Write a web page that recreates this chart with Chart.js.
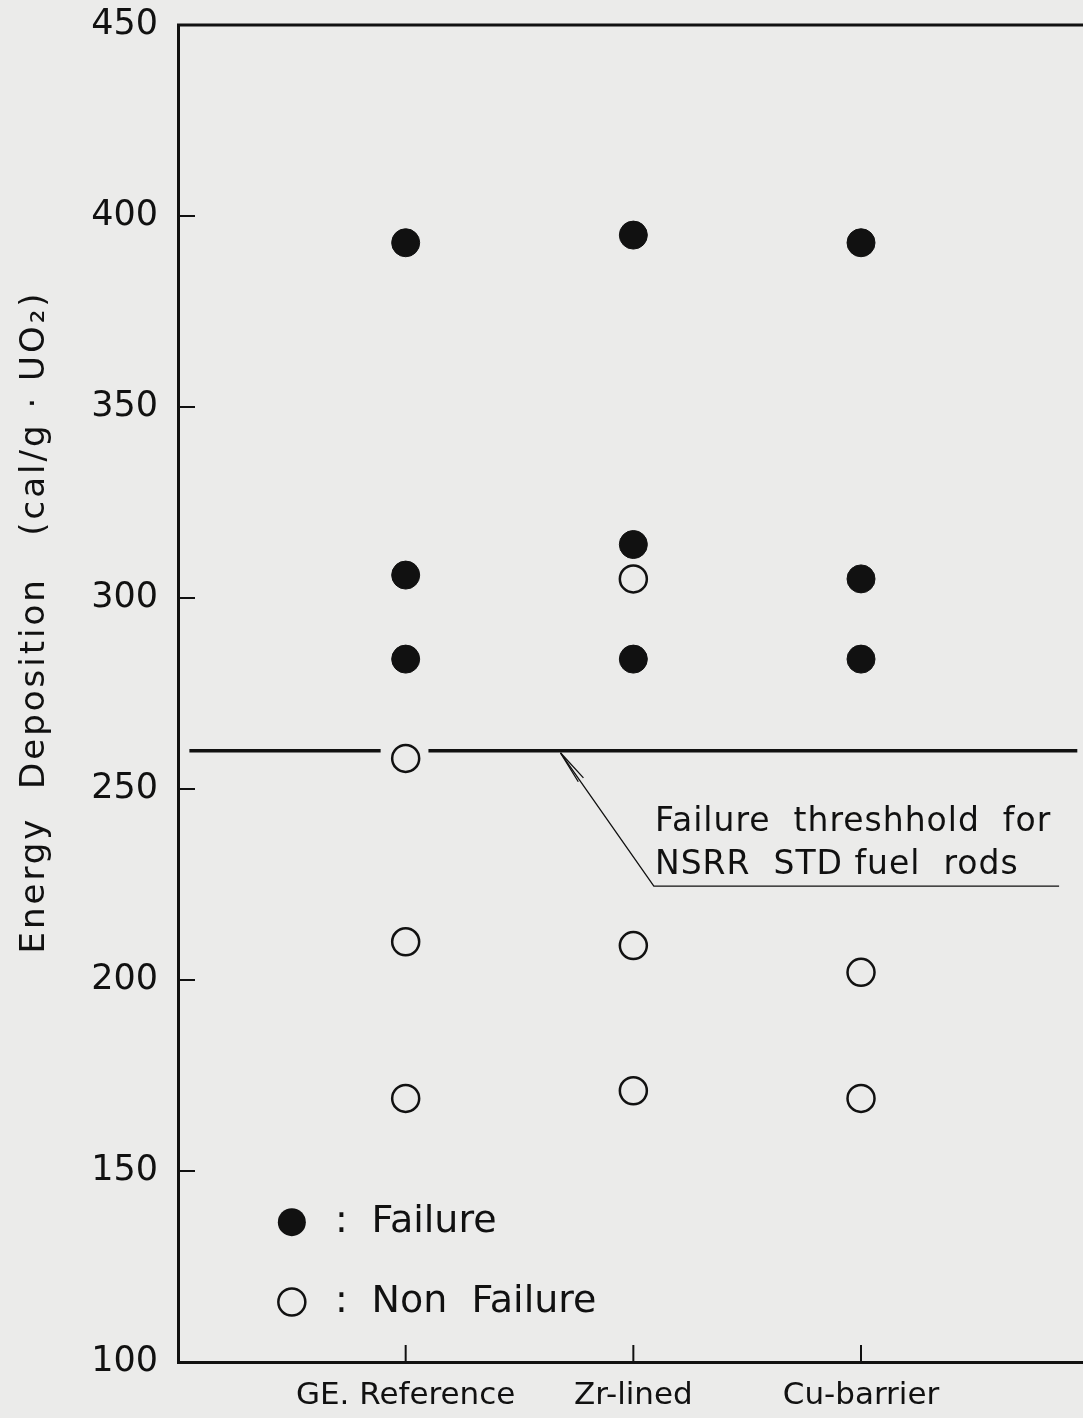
<!DOCTYPE html>
<html>
<head>
<meta charset="utf-8">
<script src="https://cdn.jsdelivr.net/npm/chart.js@4/dist/chart.umd.min.js"></script>
<style>
  html, body { margin: 0; padding: 0; background: #ebebea; }
  #c { display: block; }
</style>
</head>
<body>
<canvas id="c" width="1083" height="1418"></canvas>
<script>
// ---- Data ----
const categories = ['GE. Reference', 'Zr-lined', 'Cu-barrier'];
const yTicks = [100, 150, 200, 250, 300, 350, 400, 450];

// Energy deposition (cal/g·UO2) per category
const failureGE   = [393, 306, 284];
const failureZr   = [395, 314, 284];
const failureCu   = [393, 305, 284];
const nonFailureGE = [258, 210, 169];
const nonFailureZr = [305, 209, 171];
const nonFailureCu = [202, 169];

const thresholdValue = 260; // failure threshold for NSRR STD fuel rods

// ---- Build point lists ----
function pts(vals, catIndex) { return vals.map(v => ({ x: catIndex + 1, y: v })); }
const failurePoints = [].concat(pts(failureGE, 0), pts(failureZr, 1), pts(failureCu, 2));
const nonFailurePoints = [].concat(pts(nonFailureGE, 0), pts(nonFailureZr, 1), pts(nonFailureCu, 2));

const INK = '#111111';
const BG = '#ebebea';
const FONT = "'DejaVu Sans', sans-serif";

// threshold segments (gap around the open circle at GE. Reference)
const thresholdSeg1 = [{ x: 0.05, y: thresholdValue }, { x: 0.89, y: thresholdValue }];
const thresholdSeg2 = [{ x: 1.10, y: thresholdValue }, { x: 3.95, y: thresholdValue }];

const annot = {
  tipX: 1.68, elbowX: 2.09, elbowY: 224.6, endX: 3.87,
  textX: 2.095, line1Y: 241.2, line2Y: 230.0,
  line1: 'Failure  threshhold  for', line2: 'NSRR  STD fuel  rods'
};
const legendCfg = { markerX: 0.5, colonX: 0.69, textX: 0.85, failY: 136.6, nonY: 115.7 };

const deco = {
  id: 'deco',
  beforeDraw(chart) {
    const ctx = chart.ctx;
    ctx.save();
    ctx.fillStyle = BG;
    ctx.fillRect(0, 0, chart.width, chart.height);
    ctx.restore();
  },
  afterDatasetsDraw(chart) {
    const ctx = chart.ctx, xs = chart.scales.x, ys = chart.scales.y, ca = chart.chartArea;
    ctx.save();
    ctx.strokeStyle = INK;
    ctx.fillStyle = INK;
    // top frame line
    ctx.lineWidth = 3;
    ctx.beginPath();
    ctx.moveTo(ca.left - 1, ca.top);
    ctx.lineTo(ca.right, ca.top);
    ctx.stroke();
    // inward ticks
    ctx.lineWidth = 2;
    ys.ticks.forEach(t => {
      const py = ys.getPixelForValue(t.value);
      ctx.beginPath(); ctx.moveTo(ca.left, py); ctx.lineTo(ca.left + 17, py); ctx.stroke();
    });
    xs.ticks.forEach(t => {
      const px = xs.getPixelForValue(t.value);
      ctx.beginPath(); ctx.moveTo(px, ca.bottom); ctx.lineTo(px, ca.bottom - 17); ctx.stroke();
    });
    // arrow annotation
    const tipX = xs.getPixelForValue(annot.tipX), tipY = ys.getPixelForValue(thresholdValue) + 2;
    const elX = xs.getPixelForValue(annot.elbowX), elY = ys.getPixelForValue(annot.elbowY);
    const enX = xs.getPixelForValue(annot.endX);
    ctx.lineWidth = 1.3;
    ctx.beginPath();
    ctx.moveTo(tipX, tipY); ctx.lineTo(elX, elY); ctx.lineTo(enX, elY);
    ctx.stroke();
    const ang = Math.atan2(elY - tipY, elX - tipX);
    ctx.beginPath();
    ctx.moveTo(tipX + 34 * Math.cos(ang - 0.13), tipY + 34 * Math.sin(ang - 0.13));
    ctx.lineTo(tipX, tipY);
    ctx.lineTo(tipX + 34 * Math.cos(ang + 0.06), tipY + 34 * Math.sin(ang + 0.06));
    ctx.stroke();
    ctx.font = '33px ' + FONT;
    ctx.letterSpacing = '1px';
    ctx.textAlign = 'left';
    ctx.textBaseline = 'middle';
    ctx.fillText(annot.line1, xs.getPixelForValue(annot.textX), ys.getPixelForValue(annot.line1Y));
    ctx.fillText(annot.line2, xs.getPixelForValue(annot.textX), ys.getPixelForValue(annot.line2Y));
    // legend
    const mx = xs.getPixelForValue(legendCfg.markerX);
    const fy = ys.getPixelForValue(legendCfg.failY), ny = ys.getPixelForValue(legendCfg.nonY);
    ctx.beginPath(); ctx.arc(mx, fy, 14, 0, Math.PI * 2); ctx.fill();
    ctx.lineWidth = 2.5;
    ctx.beginPath(); ctx.arc(mx, ny, 13.5, 0, Math.PI * 2); ctx.stroke();
    ctx.font = '38px ' + FONT;
    ctx.letterSpacing = '0px';
    ctx.fillText(':', xs.getPixelForValue(legendCfg.colonX), fy);
    ctx.fillText(':', xs.getPixelForValue(legendCfg.colonX), ny);
    ctx.fillText('Failure', xs.getPixelForValue(legendCfg.textX), fy);
    ctx.fillText('Non  Failure', xs.getPixelForValue(legendCfg.textX), ny);
    // y-axis title
    ctx.translate(35, 622);
    ctx.rotate(-Math.PI / 2);
    ctx.textAlign = 'center';
    ctx.font = '34px ' + FONT;
    ctx.letterSpacing = '3px';
    ctx.fillText('Energy  Deposition   (cal/g · UO\u2082)', 0, 0);
    ctx.restore();
  }
};

new Chart(document.getElementById('c'), {
  type: 'scatter',
  data: {
    datasets: [
      { label: 'Failure', data: failurePoints, pointRadius: 14, pointHoverRadius: 14,
        pointBackgroundColor: INK, pointBorderColor: INK, pointBorderWidth: 1, showLine: false, order: 1 },
      { label: 'Non Failure', data: nonFailurePoints, pointRadius: 13.5, pointHoverRadius: 13.5,
        pointBackgroundColor: 'rgba(0,0,0,0)', pointBorderColor: INK, pointBorderWidth: 2.5, showLine: false, order: 1 },
      { label: 'threshold-a', data: thresholdSeg1, showLine: true, pointRadius: 0,
        borderColor: INK, borderWidth: 3.5, order: 2 },
      { label: 'threshold-b', data: thresholdSeg2, showLine: true, pointRadius: 0,
        borderColor: INK, borderWidth: 3.5, order: 2 }
    ]
  },
  options: {
    responsive: false,
    animation: false,
    devicePixelRatio: 1,
    layout: { autoPadding: false, padding: { top: 25, right: 0, left: 0, bottom: 0 } },
    plugins: { legend: { display: false }, tooltip: { enabled: false } },
    scales: {
      x: {
        type: 'linear', min: 0, max: 3.975,
        afterBuildTicks: s => { s.ticks = categories.map((c, i) => ({ value: i + 1 })); },
        afterFit: s => { s.height = 56; s.paddingLeft = 0; s.paddingRight = 0; },
        grid: { display: false, drawTicks: false, tickLength: 0 },
        border: { display: true, color: INK, width: 3 },
        ticks: {
          color: INK, font: { family: FONT, size: 31 }, padding: 15, maxRotation: 0,
          callback: v => categories[v - 1] || ''
        }
      },
      y: {
        type: 'linear', min: 100, max: 450,
        afterBuildTicks: s => { s.ticks = yTicks.map(v => ({ value: v })); },
        afterFit: s => { s.width = 178; s.paddingTop = 0; s.paddingBottom = 0; },
        grid: { display: false, drawTicks: false, tickLength: 0 },
        border: { display: true, color: INK, width: 3 },
        ticks: { color: INK, font: { family: FONT, size: 35 }, padding: 20 }
      }
    }
  },
  plugins: [deco]
});
</script>
</body>
</html>
